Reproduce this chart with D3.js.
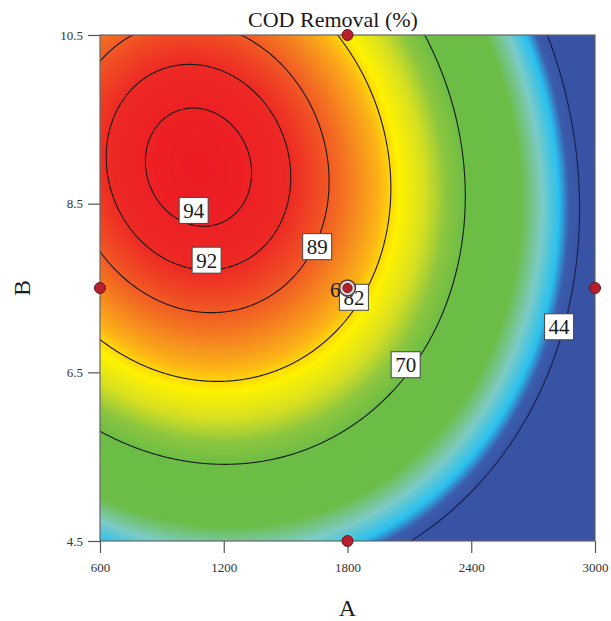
<!DOCTYPE html>
<html>
<head>
<meta charset="utf-8">
<script src="https://cdn.jsdelivr.net/npm/d3@7"></script>
<style>
  body { margin: 0; background: #fff; }
  text { font-family: "Liberation Serif", "DejaVu Serif", serif; }
</style>
</head>
<body>
<svg width="611" height="621"></svg>
<script>
// quadratic model in coded units (A: 600..3000, B: 4.5..10.5), fitted to the contour lines of the picture
var terms = ["1", "A", "B", "AB", "A^2", "B^2"],
    coef = [84.07, -24.28, 15.12, -3.90, -21.71, -18.29];

var levels = [44, 70, 82, 89, 92, 94];
// where each contour label box sits
var labelA = [2826, 2082, 1831, 1653, 1117, 1054],
    labelB = [7.04, 6.59, 7.39, 7.99, 7.83, 8.42];

var designA = [600, 1800, 1800, 3000, 1800],
    designB = [7.5, 10.5, 4.5, 7.5, 7.5],
    designReps = [1, 1, 1, 1, 6];

var xTicks = [600, 1200, 1800, 2400, 3000],
    yTicks = [4.5, 6.5, 8.5, 10.5];

// colour ramp (response value -> colour)
var rampValues = [44, 46.8, 49.4, 53.6, 58.5, 70, 73.5, 77, 80.8, 83.5, 85.5, 89, 92, 95],
    rampColors = ["#3953a4", "#3b5cac", "#29c0ef", "#7ccbc6", "#6cbd48", "#6cbd45", "#8cc63f",
                  "#d5df22", "#fff200", "#fcb316", "#f7941d", "#f15a24", "#ed2a24", "#ed1c24"];

var svg = d3.select("svg"),
    pLeft = 100, pRight = 595, pTop = 35, pBottom = 541,
    pw = pRight - pLeft, ph = pBottom - pTop;

var x = d3.scaleLinear().domain([600, 3000]).range([pLeft, pRight]),
    y = d3.scaleLinear().domain([4.5, 10.5]).range([pBottom, pTop]);

var color = d3.scaleLinear().domain(rampValues).range(rampColors).clamp(true);

function model(a, b) {
    var x1 = (a - 1800) / 1200,
        x2 = (b - 7.5) / 3;
    return coef[0] + coef[1] * x1 + coef[2] * x2 + coef[3] * x1 * x2
         + coef[4] * x1 * x1 + coef[5] * x2 * x2;
}

// filled surface, drawn on a canvas then put into the svg as an image
var canvas = document.createElement("canvas");
canvas.width = pw;
canvas.height = ph;
var ctx = canvas.getContext("2d"),
    img = ctx.createImageData(pw, ph);
for (var j = 0; j < ph; j++) {
    for (var i = 0; i < pw; i++) {
        var v = model(x.invert(pLeft + i + 0.5), y.invert(pTop + j + 0.5)),
            c = d3.rgb(color(v)),
            k = (j * pw + i) * 4;
        img.data[k] = c.r;
        img.data[k + 1] = c.g;
        img.data[k + 2] = c.b;
        img.data[k + 3] = 255;
    }
}
ctx.putImageData(img, 0, 0);

svg.append("image")
    .attr("x", pLeft).attr("y", pTop)
    .attr("width", pw).attr("height", ph)
    .attr("href", canvas.toDataURL());

svg.append("clipPath").attr("id", "plot")
  .append("rect")
    .attr("x", pLeft).attr("y", pTop)
    .attr("width", pw).attr("height", ph);

// contour lines: grid a bit larger than the plot so the ring edges fall outside the clip
var pad = 12,
    gx0 = pLeft - pad, gy0 = pTop - pad,
    nx = pw + 2 * pad, ny = ph + 2 * pad,
    grid = new Float64Array(nx * ny);
for (var j = 0; j < ny; j++)
    for (var i = 0; i < nx; i++)
        grid[j * nx + i] = model(x.invert(gx0 + i), y.invert(gy0 + j));

var contours = d3.contours().size([nx, ny]).thresholds(levels)(grid);

var toPixel = d3.geoTransform({
    point: function(px, py) { this.stream.point(gx0 + px - 0.5, gy0 + py - 0.5); }
});
var path = d3.geoPath(toPixel);

svg.append("g")
    .attr("clip-path", "url(#plot)")
  .selectAll("path")
  .data(contours)
  .enter().append("path")
    .attr("d", path)
    .attr("fill", "none")
    .attr("stroke", function(d) { return d.value < 50 ? "#14204d" : "#1a1a1a"; })
    .attr("stroke-width", 1.1);

// frame
svg.append("rect")
    .attr("x", pLeft).attr("y", pTop)
    .attr("width", pw).attr("height", ph)
    .attr("fill", "none")
    .attr("stroke", "#666")
    .attr("stroke-width", 1.2);

// axes
var xAxis = svg.append("g")
    .attr("transform", "translate(0," + pBottom + ")")
    .call(d3.axisBottom(x).tickValues(xTicks).tickSize(12).tickSizeOuter(0).tickPadding(10)
            .tickFormat(d3.format("d")));
var yAxis = svg.append("g")
    .attr("transform", "translate(" + pLeft + ",0)")
    .call(d3.axisLeft(y).tickValues(yTicks).tickSize(12).tickSizeOuter(0).tickPadding(5)
            .tickFormat(d3.format(".1f")));

[xAxis, yAxis].forEach(function(g) {
    g.select(".domain").remove();
    g.selectAll("line").attr("stroke", "#555").attr("stroke-width", 1.2);
    g.selectAll("text")
        .attr("fill", "#333")
        .style("font-family", "'Liberation Serif', serif")
        .style("font-size", "13px");
});

// contour labels
contours.forEach(function(cont, n) {
    var g = svg.append("g")
        .attr("transform", "translate(" + x(labelA[n]) + "," + y(labelB[n]) + ")");
    g.append("rect")
        .attr("x", -14.5).attr("y", -13)
        .attr("width", 29).attr("height", 26)
        .attr("fill", "#fff")
        .attr("stroke", "#444")
        .attr("stroke-width", 1);
    g.append("text")
        .attr("text-anchor", "middle")
        .attr("y", 7.5)
        .style("font-size", "21px")
        .attr("fill", "#1a1a1a")
        .text(cont.value);
});

// design points
designA.forEach(function(a, n) {
    var cx = x(a), cy = y(designB[n]);
    if (designReps[n] > 1) {
        svg.append("text")
            .attr("x", cx - 7).attr("y", cy + 9)
            .attr("text-anchor", "end")
            .style("font-size", "21px")
            .attr("fill", "#1a1a1a")
            .text(designReps[n]);
        svg.append("circle")
            .attr("cx", cx).attr("cy", cy).attr("r", 8)
            .attr("fill", "#d9d0d0")
            .attr("stroke", "#4a3a3a")
            .attr("stroke-width", 1.5);
    }
    svg.append("circle")
        .attr("cx", cx).attr("cy", cy).attr("r", designReps[n] > 1 ? 4.5 : 5.5)
        .attr("fill", "#b51f2e")
        .attr("stroke", "#6a1515")
        .attr("stroke-width", 1);
});

// titles
svg.append("text")
    .attr("x", 333).attr("y", 27)
    .attr("text-anchor", "middle")
    .style("font-size", "22px")
    .attr("fill", "#1a1a1a")
    .text("COD Removal  (%)");

svg.append("text")
    .attr("x", (pLeft + pRight) / 2).attr("y", 616)
    .attr("text-anchor", "middle")
    .style("font-size", "24px")
    .attr("fill", "#1a1a1a")
    .text("A");

svg.append("text")
    .attr("transform", "translate(30," + y(7.5) + ") rotate(-90)")
    .attr("text-anchor", "middle")
    .style("font-size", "24px")
    .attr("fill", "#1a1a1a")
    .text("B");
</script>
</body>
</html>
